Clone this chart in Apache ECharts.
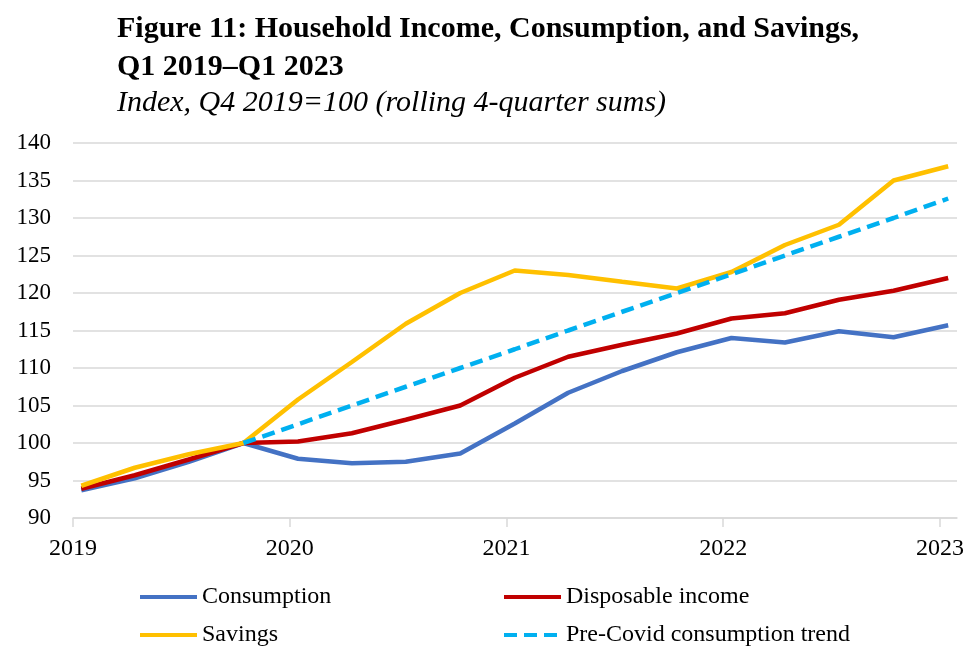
<!DOCTYPE html>
<html>
<head>
    <meta charset="utf-8">
    <title>Figure 11</title>
    <script src="https://cdn.jsdelivr.net/npm/echarts@6/dist/echarts.min.js"></script>
    <style>
        html, body { margin: 0; padding: 0; background: #fff; }
    </style>
</head>
<body>
    <div id="main" style="width: 980px;height:668px;"></div>
    <script type="text/javascript">
        // quarterly observations, Q1 2019 - Q1 2023
        var periods = ['2019-01-15', '2019-04-15', '2019-07-15', '2019-10-15',
                       '2020-01-15', '2020-04-15', '2020-07-15', '2020-10-15',
                       '2021-01-15', '2021-04-15', '2021-07-15', '2021-10-15',
                       '2022-01-15', '2022-04-15', '2022-07-15', '2022-10-15',
                       '2023-01-15'];
        var consumption = [93.7, 95.3, 97.5, 100, 97.9, 97.3, 97.5, 98.6, 102.6, 106.7, 109.6, 112.1, 114.0, 113.4, 114.9, 114.1, 115.7];
        var income      = [93.9, 95.7, 97.8, 100, 100.2, 101.3, 103.1, 105.0, 108.7, 111.5, 113.1, 114.6, 116.6, 117.3, 119.1, 120.3, 122.0];
        var savings     = [94.3, 96.7, 98.5, 100, 105.8, 110.8, 115.9, 120.0, 123.0, 122.4, 121.5, 120.6, 122.8, 126.4, 129.1, 135.0, 136.9];
        // trend only starts at Q4 2019
        var trend       = [null, null, null, 100, 102.5, 105, 107.5, 110, 112.5, 115, 117.5, 120, 122.5, 125, 127.5, 130, 132.6];
        var yearTicks = [2019, 2020, 2021, 2022, 2023];

        var serif = '"Liberation Serif", "Times New Roman", serif';

        function toYear(s) {
            var p = s.split('-');
            var y = +p[0];
            var t = Date.UTC(y, +p[1] - 1, +p[2]);
            var t0 = Date.UTC(y, 0, 1), t1 = Date.UTC(y + 1, 0, 1);
            return y + (t - t0) / (t1 - t0);
        }
        function pairs(vals) {
            var out = [];
            for (var i = 0; i < periods.length; i++) {
                if (vals[i] != null) out.push([toYear(periods[i]), vals[i]]);
            }
            return out;
        }

        var legendBase = {
            top: 580, orient: 'vertical', itemGap: 14,
            itemWidth: 57, itemHeight: 12,
            itemStyle: { opacity: 0 },
            lineStyle: { width: 4 },
            textStyle: { fontFamily: serif, fontSize: 24, color: '#000' }
        };

        var myChart = echarts.init(document.getElementById('main'));
        var option = {
            backgroundColor: '#fff',
            animation: false,
            title: {
                left: 117,
                top: 10,
                text: 'Figure 11: Household Income, Consumption, and Savings,\nQ1 2019\u2013Q1 2023',
                textStyle: { fontFamily: serif, fontWeight: 'bold', fontSize: 30, lineHeight: 38, color: '#000' },
                subtext: 'Index, Q4 2019=100 (rolling 4-quarter sums)',
                subtextStyle: { fontFamily: serif, fontStyle: 'italic', fontSize: 30, lineHeight: 34, color: '#000' },
                itemGap: 0,
                padding: 0
            },
            legend: [
                Object.assign({}, legendBase, { left: 133, data: ['Consumption', 'Savings'] }),
                Object.assign({}, legendBase, { left: 497, data: ['Disposable income', 'Pre-Covid consumption trend'] })
            ],
            grid: { left: 73, right: 23, top: 143, bottom: 150, containLabel: false },
            xAxis: {
                type: 'value',
                min: 2019,
                max: 2023.079,
                splitLine: { show: false },
                axisLine: { show: true, lineStyle: { color: '#d9d9d9', width: 1.5 } },
                axisTick: { show: true, length: 9, customValues: yearTicks, lineStyle: { color: '#d9d9d9', width: 1.5 } },
                axisLabel: {
                    customValues: yearTicks,
                    margin: 19,
                    fontFamily: serif, fontSize: 24, color: '#000',
                    formatter: function (v) { return String(Math.round(v)); }
                }
            },
            yAxis: {
                type: 'value',
                min: 90, max: 140, interval: 5,
                axisLine: { show: false },
                axisTick: { show: false },
                splitLine: { lineStyle: { color: '#d9d9d9', width: 1.5 } },
                axisLabel: { margin: 22, fontFamily: serif, fontSize: 23, color: '#000' }
            },
            series: [{
                name: 'Consumption', type: 'line', symbol: 'none',
                data: pairs(consumption),
                lineStyle: { color: '#4472C4', width: 4.5 },
                itemStyle: { color: '#4472C4' }
            }, {
                name: 'Disposable income', type: 'line', symbol: 'none',
                data: pairs(income),
                lineStyle: { color: '#C00000', width: 4.5 },
                itemStyle: { color: '#C00000' }
            }, {
                name: 'Savings', type: 'line', symbol: 'none',
                data: pairs(savings),
                lineStyle: { color: '#FFC000', width: 4.5 },
                itemStyle: { color: '#FFC000' }
            }, {
                name: 'Pre-Covid consumption trend', type: 'line', symbol: 'none',
                data: pairs(trend),
                lineStyle: { color: '#00B0F0', width: 4.5, type: [13, 7] },
                itemStyle: { color: '#00B0F0' }
            }]
        };
        myChart.setOption(option);
    </script>
</body>
</html>
